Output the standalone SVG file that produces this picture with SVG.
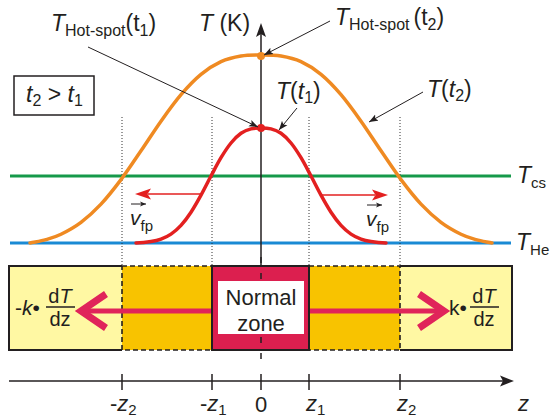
<svg xmlns="http://www.w3.org/2000/svg" width="552" height="417" viewBox="0 0 552 417">
<style>
text{font-family:"Liberation Sans",Arial,Helvetica,sans-serif;fill:#231f20}
.i{font-style:italic}
.ax{stroke:#231f20;stroke-width:1.5;fill:none}
.dot{stroke:#333;stroke-width:1;stroke-dasharray:1 2;fill:none}
.ld{stroke:#231f20;stroke-width:1;fill:none;marker-end:url(#ah)}
.bd{stroke:#231f20;stroke-width:2;fill:none}
.dash{stroke:#231f20;stroke-width:1.6;stroke-dasharray:5 3;fill:none}
.pk{stroke:#e0245a;fill:none}
.vel{stroke:#e32020;stroke-width:1.5;fill:none}
</style>
<defs>
<marker id="ah" markerWidth="10" markerHeight="8" refX="9" refY="4" orient="auto" markerUnits="userSpaceOnUse">
<path d="M0,0.5 L9,4 L0,7.5 L2,4 Z" fill="#231f20"/>
</marker>
<marker id="ahs" markerWidth="7" markerHeight="6" refX="6" refY="3" orient="auto" markerUnits="userSpaceOnUse">
<path d="M0,0.5 L6,3 L0,5.5 L1.5,3 Z" fill="#231f20"/>
</marker>
</defs>

<!-- bottom bar -->
<g id="bar">
<rect x="9" y="266" width="113" height="84" fill="#fff8a3"/>
<rect x="400" y="266" width="112" height="84" fill="#fff8a3"/>
<rect x="122" y="266" width="90" height="84" fill="#f8c300"/>
<rect x="309" y="266" width="91" height="84" fill="#f8c300"/>
<path class="bd" d="M122,266 H9 V350 H122"/>
<path class="bd" d="M400,266 H512 V350 H400"/>
<rect class="dash" x="122" y="266" width="90" height="84"/>
<rect class="dash" x="309" y="266" width="91" height="84"/>
</g>

<g id="flux-left">
<line class="pk" x1="212" y1="311" x2="84" y2="311" stroke-width="5"/>
<polyline class="pk" points="106,294 81,311 106,328" stroke-width="7"/>
<text font-size="21" y="315"><tspan x="15">-</tspan><tspan class="i">k</tspan><tspan>•</tspan></text>
<text font-size="20" x="60" y="303" text-anchor="middle">d<tspan class="i">T</tspan></text>
<line x1="46" y1="307" x2="75" y2="307" stroke="#231f20" stroke-width="1.5"/>
<text font-size="20" x="60" y="326" text-anchor="middle">dz</text>
</g>

<g id="flux-right">
<line class="pk" x1="309" y1="311" x2="440" y2="311" stroke-width="5"/>
<polyline class="pk" points="419,294 444,311 419,328" stroke-width="7"/>
<text font-size="21" x="449" y="315">k•</text>
<text font-size="20" x="484" y="303" text-anchor="middle">d<tspan class="i">T</tspan></text>
<line x1="470" y1="307" x2="499" y2="307" stroke="#231f20" stroke-width="1.5"/>
<text font-size="20" x="484" y="326" text-anchor="middle">dz</text>
</g>

<g id="normal-zone">
<rect x="212" y="266" width="97" height="84" fill="#dc1f4f" stroke="#231f20" stroke-width="2"/>
<line x1="261" y1="257" x2="261" y2="360" stroke="#231f20" stroke-width="1.5" stroke-dasharray="6 10"/>
<rect x="218" y="281" width="86" height="53" fill="#ffffff"/>
<text font-size="22" x="261" y="305" text-anchor="middle">Normal</text>
<text font-size="22" x="261" y="331" text-anchor="middle">zone</text>
</g>

<!-- reference lines -->
<g id="levels">
<line x1="10" y1="176" x2="511" y2="176" stroke="#16994a" stroke-width="3"/>
<line x1="10" y1="243" x2="511" y2="243" stroke="#1a8ad4" stroke-width="3"/>
</g>

<g id="dotted">
<line class="dot" x1="122" y1="117" x2="122" y2="266"/>
<line class="dot" x1="212" y1="117" x2="212" y2="266"/>
<line class="dot" x1="309" y1="117" x2="309" y2="266"/>
<line class="dot" x1="400" y1="117" x2="400" y2="266"/>
</g>

<g id="curve-t2">
<path fill="none" stroke="#ef8a22" stroke-width="3.5" stroke-linecap="round" d="M30,243 C35.33,241.87 40.83,241.07 46,239.6 C51.17,238.13 55.17,237.08 61,234.2 C66.83,231.32 74.33,227.32 81,222.3 C87.67,217.28 94.33,211.22 101,204.1 C107.67,196.98 114.33,188.48 121,179.6 C127.67,170.72 134.33,160.53 141,150.8 C147.67,141.07 154.33,130.55 161,121.2 C167.67,111.85 174.33,102.5 181,94.7 C187.67,86.9 194.33,79.9 201,74.4 C207.67,68.9 214.33,64.76 221,61.7 C227.67,58.64 234.33,57.17 241,56.05 C247.67,54.93 254.33,55 261,55 C267.67,55 274.33,54.93 281,56.05 C287.67,57.17 294.33,58.64 301,61.7 C307.67,64.76 314.33,68.9 321,74.4 C327.67,79.9 334.33,86.9 341,94.7 C347.67,102.5 354.33,111.85 361,121.2 C367.67,130.55 374.33,141.07 381,150.8 C387.67,160.53 394.33,170.72 401,179.6 C407.67,188.48 414.33,196.98 421,204.1 C427.67,211.22 434.33,217.28 441,222.3 C447.67,227.32 455.17,231.32 461,234.2 C466.83,237.08 470.83,238.13 476,239.6 C481.17,241.07 486.67,241.87 492,243"/>
</g>

<g id="curve-t1">
<path fill="none" stroke="#e32020" stroke-width="3.5" stroke-linecap="round" d="M136,243 C141,242.75 146.83,242.15 151,241.5 C155.17,240.85 157.67,240.33 161,239.1 C164.33,237.87 167.67,236.38 171,234.1 C174.33,231.82 177.67,229.05 181,225.4 C184.33,221.75 187.67,217.25 191,212.2 C194.33,207.15 197.67,201.13 201,195.1 C204.33,189.07 207.67,182.23 211,176 C214.33,169.77 217.67,163.2 221,157.7 C224.33,152.2 227.67,147.07 231,143 C234.33,138.93 237.67,135.65 241,133.3 C244.33,130.95 247.67,129.78 251,128.9 C254.33,128.02 257.67,128 261,128 C264.33,128 267.67,128.02 271,128.9 C274.33,129.78 277.67,130.95 281,133.3 C284.33,135.65 287.67,138.93 291,143 C294.33,147.07 297.67,152.2 301,157.7 C304.33,163.2 307.67,169.77 311,176 C314.33,182.23 317.67,189.07 321,195.1 C324.33,201.13 327.67,207.15 331,212.2 C334.33,217.25 337.67,221.75 341,225.4 C344.33,229.05 347.67,231.82 351,234.1 C354.33,236.38 357.67,237.87 361,239.1 C364.33,240.33 366.83,240.85 371,241.5 C375.17,242.15 381,242.75 386,243"/>
</g>

<!-- axes -->
<g id="t-axis">
<line class="ax" x1="261" y1="34" x2="261" y2="266"/>
<path d="M261,23 L266,37 L261,34 L256,37 Z" fill="#231f20"/>
<text font-size="23" x="199" y="31"><tspan class="i">T</tspan> (K)</text>
</g>

<g id="z-axis">
<line class="ax" x1="9" y1="381" x2="504" y2="381"/>
<path d="M514,381 L500,375.5 L503,381 L500,386.5 Z" fill="#231f20"/>
<line class="ax" x1="122" y1="374" x2="122" y2="390"/>
<line class="ax" x1="212" y1="374" x2="212" y2="390"/>
<line class="ax" x1="261" y1="374" x2="261" y2="390"/>
<line class="ax" x1="309" y1="374" x2="309" y2="390"/>
<line class="ax" x1="400" y1="374" x2="400" y2="390"/>
<text font-size="22" x="110" y="411">-<tspan class="i">z</tspan><tspan font-size="15" dy="4">2</tspan></text>
<text font-size="22" x="200" y="411">-<tspan class="i">z</tspan><tspan font-size="15" dy="4">1</tspan></text>
<text font-size="22" x="261" y="412" text-anchor="middle">0</text>
<text font-size="22" x="306" y="411"><tspan class="i">z</tspan><tspan font-size="15" dy="4">1</tspan></text>
<text font-size="22" x="397" y="411"><tspan class="i">z</tspan><tspan font-size="15" dy="4">2</tspan></text>
<text font-size="22" x="518" y="411" class="i">z</text>
</g>

<!-- velocity arrows -->
<g id="vfp-left">
<line class="vel" x1="202" y1="194" x2="148" y2="194"/>
<path d="M135,194 L151,188.5 L147.5,194 L151,199.5 Z" fill="#e32020"/>
<line x1="131" y1="204" x2="146" y2="204" stroke="#231f20" stroke-width="1" marker-end="url(#ahs)"/>
<text font-size="21" x="130" y="225"><tspan class="i">v</tspan><tspan font-size="15" dy="6">fp</tspan></text>
</g>
<g id="vfp-right">
<line class="vel" x1="321" y1="195" x2="375" y2="195"/>
<path d="M388,195 L372,189.5 L375.5,195 L372,200.5 Z" fill="#e32020"/>
<line x1="367" y1="205" x2="382" y2="205" stroke="#231f20" stroke-width="1" marker-end="url(#ahs)"/>
<text font-size="21" x="366" y="226"><tspan class="i">v</tspan><tspan font-size="15" dy="6">fp</tspan></text>
</g>

<!-- peak markers -->
<g id="peak-t2"><circle cx="261" cy="56" r="4" fill="#ef8a22"/></g>
<g id="peak-t1"><circle cx="261" cy="128" r="4" fill="#e32020"/></g>

<!-- leaders -->
<g id="connectors">
<line class="ld" x1="88" y1="47" x2="258" y2="127"/>
<line class="ld" x1="330" y1="21" x2="264" y2="55"/>
<line class="ld" x1="297" y1="108" x2="279" y2="130"/>
<line class="ld" x1="423" y1="92" x2="369" y2="122"/>
</g>

<!-- labels -->
<g id="label-hotspot-t1">
<text font-size="23" x="51" y="31"><tspan class="i">T</tspan><tspan font-size="16" dy="5">Hot-spot</tspan><tspan dy="-5">(t</tspan><tspan font-size="16" dy="5">1</tspan><tspan dy="-5">)</tspan></text>
</g>
<g id="label-hotspot-t2">
<text font-size="23" x="335" y="25"><tspan class="i">T</tspan><tspan font-size="16" dy="5">Hot-spot</tspan><tspan dx="4" dy="-5">(t</tspan><tspan font-size="16" dy="5">2</tspan><tspan dy="-5">)</tspan></text>
</g>
<g id="label-t1">
<text font-size="23" x="276" y="99"><tspan class="i">T</tspan>(<tspan class="i">t</tspan><tspan font-size="16" dy="4">1</tspan><tspan dy="-4">)</tspan></text>
</g>
<g id="label-t2">
<text font-size="23" x="427" y="97"><tspan class="i">T</tspan>(<tspan class="i">t</tspan><tspan font-size="16" dy="4">2</tspan><tspan dy="-4">)</tspan></text>
</g>
<g id="label-time">
<rect x="14" y="76" width="80" height="39" fill="#ffffff" stroke="#231f20" stroke-width="1.5"/>
<text font-size="23" x="26" y="102"><tspan class="i">t</tspan><tspan font-size="16" dy="4">2</tspan><tspan dy="-4"> &gt; </tspan><tspan class="i">t</tspan><tspan font-size="16" dy="4">1</tspan></text>
</g>
<g id="label-tcs">
<text font-size="23" x="517" y="183"><tspan class="i">T</tspan><tspan font-size="15" dy="5">cs</tspan></text>
</g>
<g id="label-the">
<text font-size="23" x="516" y="250"><tspan class="i">T</tspan><tspan font-size="15" dy="5">He</tspan></text>
</g>
</svg>
